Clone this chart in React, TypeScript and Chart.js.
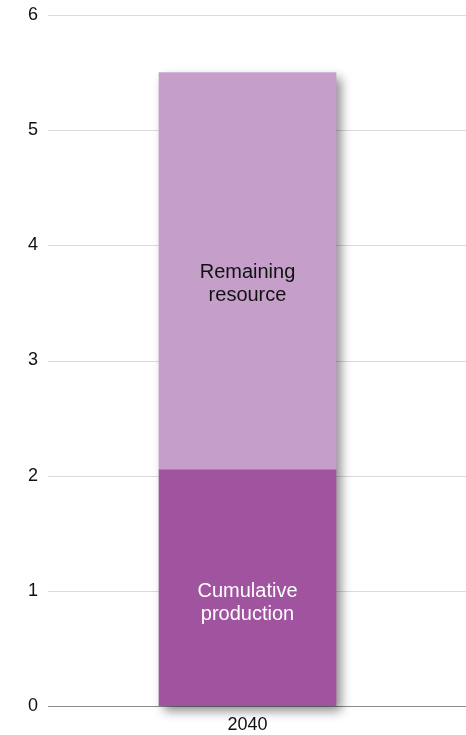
import React, { useEffect, useRef } from "react";
import { Chart, registerables } from "chart.js";

Chart.register(...registerables);

const categories = ["2040"];
const cumulativeProduction = [2.05];
const remainingResource = [3.45];
const seriesLabels = ["Cumulative production", "Remaining resource"];
const seriesLabelLines = [
  ["Cumulative", "production"],
  ["Remaining", "resource"],
];
const yTicks = [0, 1, 2, 3, 4, 5, 6];

const FONT = "'Liberation Sans', Arial, Helvetica, sans-serif";

const gridPlugin = {
  id: "fullGrid",
  beforeDatasetsDraw(chart: any) {
    const ctx = chart.ctx;
    const y = chart.scales.y;
    const left = chart.chartArea.left;
    const right = chart.width;
    ctx.save();
    yTicks.forEach((v) => {
      const py = Math.round(y.getPixelForValue(v)) + 0.5;
      ctx.beginPath();
      ctx.strokeStyle = v === 0 ? "#8a8a8a" : "#dadada";
      ctx.lineWidth = 1;
      ctx.moveTo(left, py);
      ctx.lineTo(right, py);
      ctx.stroke();
    });
    ctx.restore();
  },
};

const shadowPlugin = {
  id: "barShadow",
  beforeDatasetsDraw(chart: any) {
    const ctx = chart.ctx;
    const m0 = chart.getDatasetMeta(0);
    const m1 = chart.getDatasetMeta(chart.data.datasets.length - 1);
    ctx.save();
    m0.data.forEach((el: any, i: number) => {
      const top = m1.data[i].y;
      const bottom = el.base;
      const w = el.width;
      ctx.shadowColor = "rgba(0,0,0,0.45)";
      ctx.shadowBlur = 10;
      ctx.shadowOffsetX = 5;
      ctx.shadowOffsetY = 5;
      ctx.fillStyle = "#ffffff";
      ctx.fillRect(el.x - w / 2, top, w, bottom - top);
    });
    ctx.restore();
  },
};

const labelPlugin = {
  id: "inBarLabels",
  afterDatasetsDraw(chart: any) {
    const ctx = chart.ctx;
    ctx.save();
    ctx.font = `20px ${FONT}`;
    ctx.textAlign = "center";
    ctx.textBaseline = "middle";
    chart.data.datasets.forEach((ds: any, di: number) => {
      const meta = chart.getDatasetMeta(di);
      meta.data.forEach((el: any) => {
        const center = (el.y + el.base) / 2;
        const lines = seriesLabelLines[di];
        ctx.fillStyle = di === 0 ? "#ffffff" : "#111111";
        const off = di === 0 ? 4 : 1;
        lines.forEach((line, li) => {
          ctx.fillText(line, el.x, center + off + li * 23);
        });
      });
    });
    ctx.restore();
  },
};

export default function App() {
  const ref = useRef<HTMLCanvasElement>(null);
  useEffect(() => {
    document.body.style.margin = "0";
    const chart = new Chart(ref.current as HTMLCanvasElement, {
      type: "bar",
      data: {
        labels: categories,
        datasets: [
          {
            label: seriesLabels[0],
            data: cumulativeProduction,
            backgroundColor: "#A054A0",
            borderWidth: 0,
            barThickness: 177,
          },
          {
            label: seriesLabels[1],
            data: remainingResource,
            backgroundColor: "#C59FC9",
            borderWidth: 0,
            barThickness: 177,
          },
        ],
      },
      options: {
        animation: false,
        responsive: false,
        maintainAspectRatio: false,
        layout: { padding: { top: 15, right: 19, left: 0, bottom: 0 } },
        plugins: {
          legend: { display: false },
          tooltip: { enabled: false },
        },
        scales: {
          x: {
            stacked: true,
            grid: { display: false, drawTicks: false },
            border: { display: false },
            ticks: {
              color: "#111",
              font: { family: FONT, size: 18 },
              padding: 8,
            },
            afterFit(scale: any) {
              scale.height = 29;
              scale.paddingLeft = 0;
              scale.paddingRight = 0;
            },
          },
          y: {
            stacked: true,
            min: 0,
            max: 6,
            grid: { display: false, drawTicks: false },
            border: { display: false },
            ticks: {
              stepSize: 1,
              color: "#111",
              font: { family: FONT, size: 18 },
              padding: 10,
            },
            afterFit(scale: any) {
              scale.width = 48;
              scale.paddingTop = 0;
              scale.paddingBottom = 0;
            },
          },
        },
      },
      plugins: [gridPlugin, shadowPlugin, labelPlugin],
    });
    return () => chart.destroy();
  }, []);
  return (
    <div style={{ width: 466, height: 735, background: "#fff" }}>
      <canvas ref={ref} width={466} height={735} style={{ display: "block" }} />
    </div>
  );
}
